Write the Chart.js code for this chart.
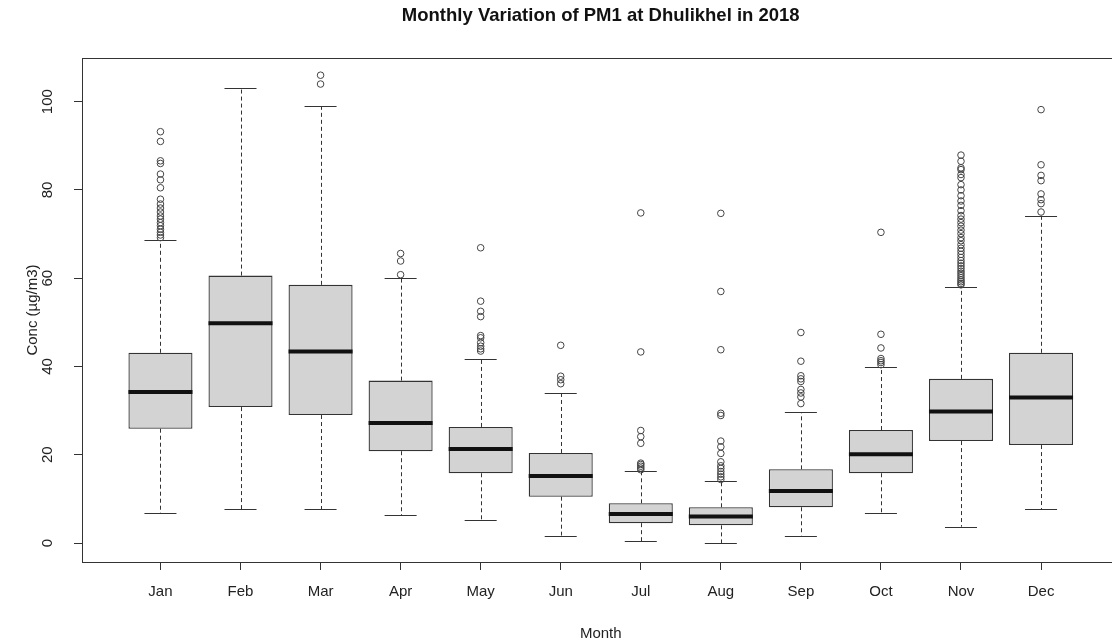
<!DOCTYPE html>
<html>
<head>
<meta charset="utf-8">
<title>Monthly Variation of PM1 at Dhulikhel in 2018</title>
<script src="https://cdn.jsdelivr.net/npm/chart.js@4.4.0/dist/chart.umd.min.js"></script>
<style>
    html, body { margin: 0; padding: 0; overflow: hidden; background: #fff; }
</style>
</head>
<body>
<canvas id="pmChart" width="1125" height="643"></canvas>
<script>
// box stats (ug/m3)
const months = ["Jan", "Feb", "Mar", "Apr", "May", "Jun", "Jul", "Aug", "Sep", "Oct", "Nov", "Dec"];
const whiskerLow = [6.7, 7.6, 7.6, 6.3, 5.3, 1.7, 0.4, 0.0, 1.7, 6.7, 3.7, 7.6];
const quart1 = [25.9, 30.8, 29.0, 20.8, 15.8, 10.5, 4.5, 4.0, 8.1, 15.8, 23.1, 22.2];
const medians = [34.2, 49.8, 43.4, 27.2, 21.3, 15.2, 6.6, 6.0, 11.8, 20.1, 29.8, 33.0];
const quart3 = [43.1, 60.6, 58.5, 36.8, 26.3, 20.4, 9.0, 8.1, 16.7, 25.6, 37.2, 43.1];
const whiskerHigh = [68.6, 103.0, 99.0, 60.0, 41.8, 34.0, 16.3, 14.0, 29.6, 39.9, 58.1, 74.2];

const outliers = [
    [69.2, 69.8, 70.4, 71.1, 71.9, 72.6, 73.4, 74.1, 75.0, 75.9, 76.8, 77.9, 80.5, 82.3, 83.6, 86.0, 86.6, 91.0, 93.2],
    [],
    [104.0, 106.0],
    [60.8, 63.9, 65.6],
    [43.5, 44.0, 44.6, 45.4, 46.5, 47.0, 51.3, 52.5, 54.8, 66.9],
    [36.1, 37.0, 37.8, 44.8],
    [16.6, 17.0, 17.4, 17.8, 18.1, 22.6, 24.1, 25.5, 43.3, 74.8],
    [14.4, 15.0, 15.6, 16.2, 16.9, 17.5, 18.4, 20.3, 21.8, 23.1, 28.9, 29.4, 43.8, 57.0, 74.7],
    [31.6, 33.1, 34.0, 34.8, 36.6, 37.2, 37.9, 41.2, 47.7],
    [40.4, 40.9, 41.3, 41.8, 44.2, 47.3, 70.4],
    [58.5, 58.8, 59.2, 59.6, 60.1, 60.6, 61.1, 61.6, 62.2, 62.8, 63.4, 64.0, 64.7, 65.4, 66.1, 66.8, 67.6,
     68.5, 69.2, 70.1, 70.9, 71.8, 72.6, 73.4, 74.2, 75.3, 76.5, 77.5, 78.7, 80.0, 81.2, 82.8, 83.5, 84.6,
     85.0, 86.5, 87.9],
    [75.0, 76.9, 77.8, 79.1, 82.1, 83.3, 85.7, 98.2]
];
const yTicks = [0, 20, 40, 60, 80, 100];

const FONT = "'Liberation Sans', Arial, sans-serif";
const INK = '#333';

const boxData = months.map((m, i) => ({ x: i + 1, y: [quart1[i], quart3[i]] }));
const pointData = [];
outliers.forEach((list, i) => list.forEach(v => pointData.push({ x: i + 1, y: v })));

// whiskers, caps, medians and the frame (R boxplot look)
const boxParts = {
    id: 'boxParts',
    beforeDatasetsDraw(chart) {
        const { ctx, scales: { x, y } } = chart;
        ctx.save();
        ctx.strokeStyle = INK;
        ctx.lineWidth = 1;
        months.forEach((m, i) => {
            const cx = Math.round(x.getPixelForValue(i + 1)) + 0.5;
            ctx.setLineDash([4, 3]);
            ctx.beginPath();
            ctx.moveTo(cx, y.getPixelForValue(quart3[i]));
            ctx.lineTo(cx, y.getPixelForValue(whiskerHigh[i]));
            ctx.moveTo(cx, y.getPixelForValue(quart1[i]));
            ctx.lineTo(cx, y.getPixelForValue(whiskerLow[i]));
            ctx.stroke();
            ctx.setLineDash([]);
            const l = x.getPixelForValue(i + 0.8), r = x.getPixelForValue(i + 1.2);
            ctx.beginPath();
            [whiskerHigh[i], whiskerLow[i]].forEach(v => {
                const py = Math.round(y.getPixelForValue(v)) + 0.5;
                ctx.moveTo(l, py);
                ctx.lineTo(r, py);
            });
            ctx.stroke();
        });
        ctx.restore();
    },
    afterDatasetsDraw(chart) {
        const { ctx, scales: { x, y } } = chart;
        ctx.save();
        ctx.strokeStyle = '#111';
        ctx.lineWidth = 4;
        months.forEach((m, i) => {
            const py = y.getPixelForValue(medians[i]);
            ctx.beginPath();
            ctx.moveTo(x.getPixelForValue(i + 0.6), py);
            ctx.lineTo(x.getPixelForValue(i + 1.4), py);
            ctx.stroke();
        });
        const a = chart.chartArea;
        ctx.strokeStyle = INK;
        ctx.lineWidth = 1;
        ctx.strokeRect(Math.round(a.left) + 0.5, Math.round(a.top) + 0.5, a.right - a.left, Math.round(a.bottom - a.top));
        ctx.restore();
    }
};

new Chart(document.getElementById('pmChart'), {
    type: 'bar',
    data: {
        datasets: [{
            label: 'IQR',
            data: boxData,
            backgroundColor: '#d3d3d3',
            borderColor: INK,
            borderWidth: 1.3,
            borderSkipped: false,
            categoryPercentage: 1,
            barPercentage: 0.8
        }, {
            type: 'scatter',
            label: 'Outliers',
            data: pointData,
            showLine: false,
            pointStyle: 'circle',
            pointRadius: 3.3,
            backgroundColor: 'rgba(0,0,0,0)',
            borderColor: '#444',
            borderWidth: 1
        }]
    },
    options: {
        responsive: false,
        animation: false,
        layout: { padding: { left: 0, right: 5.5, top: 0, bottom: 0 } },
        plugins: {
            legend: { display: false },
            tooltip: { enabled: false },
            title: {
                display: true,
                fullSize: false,
                text: 'Monthly Variation of PM1 at Dhulikhel in 2018',
                color: '#111',
                font: { family: FONT, size: 18.5, weight: 'bold' },
                padding: { top: 5, bottom: 30.8 }
            }
        },
        scales: {
            x: {
                type: 'linear',
                min: 0.02,
                max: 12.98,
                offset: false,
                afterBuildTicks: s => { s.ticks = months.map((m, i) => ({ value: i + 1 })); },
                afterFit: s => { s.height = 81; },
                grid: { offset: false, drawOnChartArea: false, drawTicks: true, tickLength: 8, tickColor: INK },
                border: { display: false },
                ticks: {
                    callback: v => months[v - 1],
                    autoSkip: false,
                    maxRotation: 0,
                    padding: 13,
                    color: '#222',
                    font: { family: FONT, size: 15 }
                },
                title: {
                    display: true,
                    text: 'Month',
                    color: '#222',
                    font: { family: FONT, size: 15 },
                    padding: { top: 0, bottom: 0 }
                }
            },
            y: {
                min: -4.3,
                max: 109.9,
                afterBuildTicks: s => { s.ticks = yTicks.map(v => ({ value: v })); },
                afterFit: s => { s.width = 82; },
                grid: { drawOnChartArea: false, drawTicks: true, tickLength: 8, tickColor: INK },
                border: { display: false },
                ticks: {
                    minRotation: 90,
                    maxRotation: 90,
                    crossAlign: 'center',
                    padding: 14,
                    color: '#222',
                    font: { family: FONT, size: 15 }
                },
                title: {
                    display: true,
                    text: 'Conc (µg/m3)',
                    color: '#222',
                    font: { family: FONT, size: 15 },
                    padding: { top: 24, bottom: 0 }
                }
            }
        }
    },
    plugins: [boxParts]
});
</script>
</body>
</html>
